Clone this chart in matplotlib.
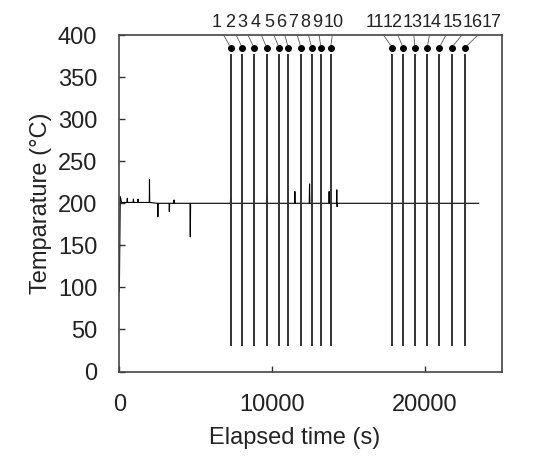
import matplotlib
matplotlib.use("Agg")
import matplotlib.pyplot as plt

plt.rcParams['font.family'] = ['Liberation Sans', 'DejaVu Sans']

# temperature trace (s, degC)
trace_t = [0, 60, 150, 500, 520, 540, 900, 920, 940, 1200, 1220, 1240,
           1960, 1970, 1985, 2500, 2520, 2540, 3250, 3270, 3290, 3550, 3570,
           3590, 4620, 4640, 4660, 7260, 7280, 7300, 9620, 9640, 9660,
           11020, 11040, 11060, 11460, 11480, 11500, 12420, 12440, 12460,
           13700, 13720, 13740, 14200, 14220, 14240, 14260, 23500]
trace_T = [95, 208, 201, 201, 206, 201, 201, 205, 201, 201, 205, 201,
           201, 228, 201, 200, 184, 200, 200, 190, 200, 200, 204,
           200, 200, 160, 200, 200, 206, 200, 200, 211, 200,
           200, 196, 200, 200, 214, 200, 200, 223, 200,
           200, 214, 200, 200, 216, 196, 200, 200]

# thermocouple insertion times (s)
tc_times = [7281, 8039, 8804, 9634, 10438, 11046, 11876, 12575, 13183, 13817,
            17843, 18562, 19327, 20131, 20915, 21725, 22595]
tc_labels = [str(i) for i in range(1, 18)]
line_low = 30
line_high = 377
dot_T = 385

# label placement (layout only)
label_x = [6353, 7235, 8020, 8935, 9778, 10601, 11386, 12170, 12954, 14033,
           16712, 17856, 19196, 20438, 21810, 23085, 24327]
label_y = 415

fig = plt.figure(figsize=(5.5, 4.61), dpi=100)
ax = fig.add_axes([0.217, 0.194, 0.695, 0.730])

ax.plot(trace_t, trace_T, color='black', lw=0.8)
ax.vlines(tc_times, line_low, line_high, color='#333333', lw=1.4)
ax.plot(tc_times, [dot_T] * len(tc_times), 'o', color='black', ms=4)

for lx, tx, lab in zip(label_x, tc_times, tc_labels):
    ax.annotate(lab, xy=(tx, dot_T), xytext=(lx, label_y),
                textcoords='data', ha='center', va='center', fontsize=13,
                color='#222222', annotation_clip=False,
                arrowprops=dict(arrowstyle='-', color='#555555', lw=0.6,
                                shrinkA=1, shrinkB=2))

ax.set_xlim(0, 25000)
ax.set_ylim(0, 400)
ax.set_xticks([0, 10000, 20000])
ax.set_yticks(range(0, 401, 50))
ax.tick_params(direction='in', length=4, width=1, labelsize=17, pad=16,
               colors='#333333', labelcolor='#222222')
for s in ax.spines.values():
    s.set_linewidth(1.2)
    s.set_color('#444444')

ax.set_xlabel('Elapsed time (s)', fontsize=17, color='#222222', labelpad=2)
ax.xaxis.set_label_coords(0.459, -0.165)
ax.set_ylabel('Temparature (\u00b0C)', fontsize=17, color='#222222')

fig.savefig('out.png', dpi=100)
